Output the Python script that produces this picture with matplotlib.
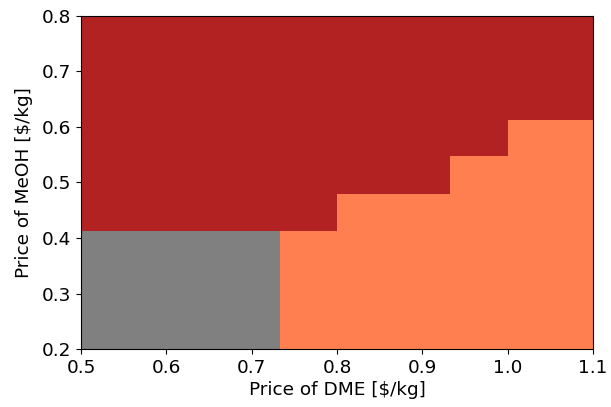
import numpy as np
import matplotlib.pyplot as plt
from matplotlib.colors import ListedColormap

# region boundaries
dme_edges = [0.5, 0.733, 0.8, 0.933, 1.0, 1.1]
meoh_edges = [0.2, 0.413, 0.48, 0.547, 0.613, 0.8]

# 0 = gray, 1 = coral, 2 = firebrick  (rows: MeOH bands, cols: DME bands)
regions = [
    [0, 1, 1, 1, 1],
    [2, 2, 1, 1, 1],
    [2, 2, 2, 1, 1],
    [2, 2, 2, 2, 1],
    [2, 2, 2, 2, 2],
]
colors = ["gray", "coral", "firebrick"]

plt.rcParams["font.size"] = 13.3

fig = plt.figure(figsize=(6.11, 4.07), dpi=100)
ax = fig.add_axes([0.1326, 0.1425, 0.8379, 0.8182])

ax.pcolormesh(dme_edges, meoh_edges, np.array(regions),
              cmap=ListedColormap(colors), vmin=-0.5, vmax=2.5)

ax.set_xlim(0.5, 1.1)
ax.set_ylim(0.2, 0.8)
ax.set_xlabel("Price of DME [$/kg]", labelpad=3)
ax.set_ylabel("Price of MeOH [$/kg]", labelpad=6)

fig.savefig("out.png")
